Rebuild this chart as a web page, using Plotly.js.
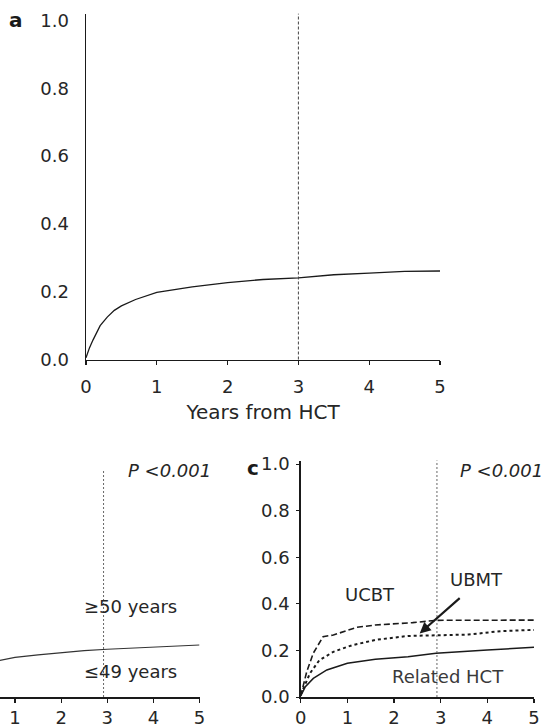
<!DOCTYPE html>
<html>
<head>
<meta charset="utf-8">
<script src="https://cdn.plot.ly/plotly-3.0.1.min.js"></script>
<style>html,body{margin:0;padding:0;background:#fff;}#chart{width:543px;height:727px;}</style>
</head>
<body>
<div id="chart"></div>
<script>
// ---- Panel a: overall cumulative incidence ----
const aYears = [0, 0.05, 0.1, 0.2, 0.3, 0.4, 0.5, 0.7, 1.0, 1.5, 2.0, 2.5, 3.0, 3.5, 4.0, 4.5, 5.0];
const aIncidence = [0.005, 0.035, 0.058, 0.1, 0.125, 0.145, 0.158, 0.177, 0.198, 0.214, 0.227, 0.236, 0.241, 0.25, 0.255, 0.26, 0.261];

// ---- Panel b: by age (visible curve) ----
const bYears = [0.5, 1.0, 1.5, 2.0, 2.5, 3.0, 3.5, 4.0, 4.5, 5.0];
const bIncidence = [0.15, 0.17, 0.181, 0.191, 0.199, 0.205, 0.21, 0.214, 0.219, 0.223];

// ---- Panel c: by donor type ----
const ucbtYears = [0, 0.13, 0.27, 0.48, 0.7, 0.9, 1.2, 1.6, 2.0, 2.4, 2.9, 3.5, 4.0, 4.5, 5.0];
const ucbtIncidence = [0.005, 0.109, 0.188, 0.259, 0.266, 0.28, 0.299, 0.309, 0.314, 0.319, 0.329, 0.33, 0.33, 0.33, 0.33];
const ubmtYears = [0, 0.2, 0.4, 0.7, 1.1, 1.6, 2.3, 2.9, 3.6, 4.3, 5.0];
const ubmtIncidence = [0.01, 0.102, 0.158, 0.194, 0.222, 0.245, 0.262, 0.266, 0.268, 0.283, 0.288];
const relYears = [0, 0.1, 0.27, 0.56, 1.0, 1.6, 2.3, 2.9, 4.0, 5.0];
const relIncidence = [0.005, 0.044, 0.08, 0.116, 0.145, 0.162, 0.173, 0.188, 0.202, 0.213];

// tick labels / reference lines
const xTicks = [0, 1, 2, 3, 4, 5];
const yTicks = [0, 0.2, 0.4, 0.6, 0.8, 1.0];
const refA = 3;       // panel a reference line (years)
const refBC = 2.92;   // panels b, c reference line (years)

const FONT = "DejaVu Sans";
const INK = "#1a1a1a";
const TXT = "#262626";

const traces = [
  {x: aYears, y: aIncidence, xaxis: 'x', yaxis: 'y', mode: 'lines', line: {color: INK, width: 1.3}},
  {x: bYears, y: bIncidence, xaxis: 'x2', yaxis: 'y2', mode: 'lines', line: {color: '#333', width: 1.1}},
  {x: ucbtYears, y: ucbtIncidence, xaxis: 'x3', yaxis: 'y3', mode: 'lines', line: {color: INK, width: 1.6, dash: '6px,3px'}},
  {x: ubmtYears, y: ubmtIncidence, xaxis: 'x3', yaxis: 'y3', mode: 'lines', line: {color: INK, width: 2, dash: 'dot'}},
  {x: relYears, y: relIncidence, xaxis: 'x3', yaxis: 'y3', mode: 'lines', line: {color: INK, width: 1.5}}
];

const tickFont = {family: FONT, size: 18, color: TXT};
function xAx(domain, range, extra) {
  return Object.assign({
    domain: domain, range: range, showgrid: false, zeroline: false,
    showline: true, linecolor: INK, linewidth: 1.5,
    ticks: 'outside', ticklen: 4, tickwidth: 1.2, tickcolor: INK,
    tickvals: xTicks, ticktext: xTicks.map(String), tickfont: tickFont,
    fixedrange: true
  }, extra || {});
}
function yAx(domain, range, extra) {
  return Object.assign({
    domain: domain, range: range, showgrid: false, zeroline: false,
    showline: true, linecolor: INK, linewidth: 1.5,
    tickvals: yTicks, ticktext: yTicks.map(v => v.toFixed(1)), tickfont: tickFont,
    fixedrange: true
  }, extra || {});
}

const labelFont = {family: FONT, size: 18, color: TXT};

const layout = {
  width: 543, height: 727,
  margin: {l: 0, r: 0, t: 0, b: 0},
  paper_bgcolor: '#fff', plot_bgcolor: 'rgba(0,0,0,0)',
  showlegend: false,
  font: {family: FONT, color: TXT},
  xaxis: xAx([86/543, 440/543], [0, 5], {
    anchor: 'y', ticklabelstandoff: 6,
    title: {text: 'Years from HCT', font: {family: FONT, size: 20, color: TXT}, standoff: 9}
  }),
  yaxis: yAx([(727-359.5)/727, (727-13.7)/727], [0, 1.02], {anchor: 'x', ticks: '', ticklabelstandoff: 12}),
  xaxis2: xAx([0, 199.5/543], [0.675, 5], {anchor: 'y2', ticklabelstandoff: 0}),
  yaxis2: yAx([30/727, (727-460.5)/727], [0, 1.015], {anchor: 'x2', visible: false}),
  xaxis3: xAx([300.7/543, 534/543], [0, 5], {anchor: 'y3', ticklabelstandoff: 0}),
  yaxis3: yAx([30/727, (727-460.5)/727], [0, 1.015], {anchor: 'x3', ticks: 'outside', ticklen: 3, tickcolor: INK, ticklabelstandoff: 3}),
  shapes: [
    {type: 'line', xref: 'x', yref: 'y domain', x0: refA, x1: refA, y0: 0, y1: 1, line: {color: '#444', width: 1, dash: '3px,2px'}},
    {type: 'line', xref: 'x2', yref: 'y2', x0: refBC, x1: refBC, y0: 0, y1: 0.975, line: {color: '#666', width: 1, dash: '2px,2px'}},
    {type: 'line', xref: 'x3', yref: 'y3 domain', x0: refBC, x1: refBC, y0: 0, y1: 1, line: {color: '#666', width: 1, dash: '2px,2px'}}
  ],
  annotations: [
    {text: '<b>a</b>', xref: 'paper', yref: 'paper', x: 16/543, y: (727-20)/727, xanchor: 'center', yanchor: 'middle', showarrow: false, font: {family: FONT, size: 20, color: INK}},
    {text: '<b>c</b>', xref: 'paper', yref: 'paper', x: 253/543, y: (727-468)/727, xanchor: 'center', yanchor: 'middle', showarrow: false, font: {family: FONT, size: 20, color: INK}},
    {text: '<i>P</i> <i>&lt;0.001</i>', xref: 'x2', yref: 'y2', x: 4.35, y: 0.97, showarrow: false, font: labelFont},
    {text: '≥50 years', xref: 'x2', yref: 'y2', x: 3.5, y: 0.39, showarrow: false, font: labelFont},
    {text: '≤49 years', xref: 'x2', yref: 'y2', x: 3.5, y: 0.108, showarrow: false, font: labelFont},
    {text: '<i>P</i> <i>&lt;0.001</i>', xref: 'x3', yref: 'y3', x: 4.3, y: 0.97, showarrow: false, font: labelFont},
    {text: 'UCBT', xref: 'x3', yref: 'y3', x: 1.48, y: 0.438, showarrow: false, font: labelFont},
    {text: 'UBMT', xref: 'x3', yref: 'y3', x: 3.77, y: 0.503, showarrow: false, font: labelFont},
    {text: 'Related HCT', xref: 'x3', yref: 'y3', x: 3.16, y: 0.087, showarrow: false, font: {family: FONT, size: 18, color: '#3a3a3a'}},
    {text: '', xref: 'x3', yref: 'y3', x: 2.55, y: 0.273, axref: 'x3', ayref: 'y3', ax: 3.44, ay: 0.43,
     showarrow: true, arrowhead: 2, arrowsize: 1, arrowwidth: 2.2, arrowcolor: INK, standoff: 0, startstandoff: 0}
  ]
};

Plotly.newPlot('chart', traces, layout, {displayModeBar: false, staticPlot: true});
</script>
</body>
</html>
